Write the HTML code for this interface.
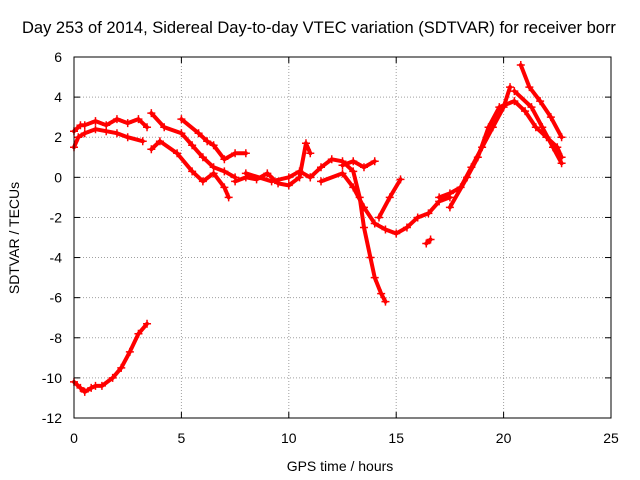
<!DOCTYPE html>
<html><head><meta charset="utf-8"><style>
body{margin:0;background:#fff}
svg{display:block;font-family:"Liberation Sans",sans-serif}
</style></head><body>
<svg id="chart" width="640" height="480">
<rect width="640" height="480" fill="#fff"/>
<text x="22" y="33" font-size="16.5">Day 253 of 2014, Sidereal Day-to-day VTEC variation (SDTVAR) for receiver borr</text>
<g id="grid"></g>
<g id="ticks"></g>
<g id="series"></g>
<rect x="74" y="57" width="537" height="361" fill="none" stroke="#000" stroke-width="1"/>
<text x="340" y="471" font-size="14" text-anchor="middle">GPS time / hours</text>
<text transform="translate(19,238) rotate(-90)" font-size="14" text-anchor="middle">SDTVAR / TECUs</text>
</svg>
<script>
const xTicks=[0,5,10,15,20,25];
const yTicks=[6,4,2,0,-2,-4,-6,-8,-10,-12];
const s1x=[0,0.3,0.5,0.8,1,1.3,1.8,2.2,2.6,3.0,3.4];
const s1y=[-10.2,-10.5,-10.7,-10.5,-10.4,-10.4,-10.0,-9.5,-8.7,-7.8,-7.3];
const s2x=[0,0.3,0.5,1,1.5,2,2.5,3,3.4];
const s2y=[2.3,2.6,2.6,2.8,2.6,2.9,2.7,2.9,2.5];
const s3x=[0,0.2,0.5,1,1.5,2,2.5,3.2];
const s3y=[1.5,2.0,2.2,2.4,2.3,2.2,2.0,1.8];
const s4x=[3.6,4.2,5,5.5,6,6.5,7,7.5];
const s4y=[3.2,2.5,2.2,1.6,1.0,0.5,0.3,0.0];
const s5x=[5,5.8,6.2,6.5,7.0,7.5,8];
const s5y=[2.9,2.2,1.8,1.6,0.9,1.2,1.2];
const s6x=[3.6,4,4.8,5.5,6,6.5,7,7.2];
const s6y=[1.4,1.8,1.2,0.3,-0.2,0.2,-0.5,-1.0];
const s7x=[7.5,8,8.5,9,9.5,10,10.5,10.8,11];
const s7y=[-0.2,0.0,-0.1,0.2,-0.3,-0.4,0.0,1.7,1.2];
const s8x=[8,9.2,10,10.5,11];
const s8y=[0.2,-0.2,0.0,0.3,0.0];
const s9x=[11,11.5,12,12.5,13,13.3,13.5,13.8,14,14.3,14.5];
const s9y=[0,0.5,0.9,0.8,0.3,-1.0,-2.5,-4.0,-5.0,-5.8,-6.2];
const s10x=[11.5,12.5,13,13.5,14,14.5,15,15.5,16,16.5,17,17.5];
const s10y=[-0.2,0.2,-0.5,-1.5,-2.3,-2.6,-2.8,-2.5,-2.0,-1.8,-1.2,-1.0];
const s11x=[12.5,13,13.5,14.0];
const s11y=[0.6,0.8,0.5,0.8];
const s12x=[14.2,14.7,15.2];
const s12y=[-2.0,-1.0,-0.1];
const s13x=[16.4,16.6];
const s13y=[-3.3,-3.1];
const s14x=[17,17.5,18,18.5,19,19.5,20,20.3];
const s14y=[-1.0,-0.8,-0.5,0.5,1.5,2.5,3.5,4.5];
const s15x=[17.5,18.3,18.8,19.3,19.8,20.5,21,21.5,22,22.5,22.7];
const s15y=[-1.5,0.0,1.0,2.5,3.5,3.8,3.3,2.5,2.0,1.5,1.0];
const s16x=[20.8,21.2,21.7,22.2,22.7];
const s16y=[5.6,4.5,3.8,3.0,2.0];
const s17x=[20.5,21.3,21.8,22.3,22.7];
const s17y=[4.3,3.5,2.5,1.5,0.7];
const seriesX=[s1x,s2x,s3x,s4x,s5x,s6x,s7x,s8x,s9x,s10x,s11x,s12x,s13x,s14x,s15x,s16x,s17x];
const seriesY=[s1y,s2y,s3y,s4y,s5y,s6y,s7y,s8y,s9y,s10y,s11y,s12y,s13y,s14y,s15y,s16y,s17y];

const NS="http://www.w3.org/2000/svg";
const X0=74,X1=611,Y0=57,Y1=418;
function sx(v){return X0+(v-0)/(25-0)*(X1-X0);}
function sy(v){return Y0+(6-v)/(6-(-12))*(Y1-Y0);}
function mk(t,a,p){const e=document.createElementNS(NS,t);for(const k in a)e.setAttribute(k,a[k]);p.appendChild(e);return e;}
const grid=document.getElementById('grid'),ticks=document.getElementById('ticks'),ser=document.getElementById('series');
xTicks.forEach(v=>{
  const x=sx(v);
  if(v>0&&v<25){const l=mk('line',{x1:x,x2:x,y1:Y0,y2:Y1,stroke:'#a0a0a0','stroke-dasharray':'1,2'},grid);
  
  }
  mk('line',{x1:x,x2:x,y1:Y1,y2:Y1-6,stroke:'#000'},ticks);
  mk('line',{x1:x,x2:x,y1:Y0,y2:Y0+6,stroke:'#000'},ticks);
  const t=mk('text',{x:x,y:443,'font-size':'14','text-anchor':'middle'},ticks);t.textContent=v;
  
  
});
yTicks.forEach(v=>{
  const y=sy(v);
  if(v<6&&v>-12){const l=mk('line',{x1:X0,x2:X1,y1:y,y2:y,stroke:'#a0a0a0','stroke-dasharray':'1,2'},grid);
  
  }
  mk('line',{x1:X0,x2:X0+6,y1:y,y2:y,stroke:'#000'},ticks);
  mk('line',{x1:X1,x2:X1-6,y1:y,y2:y,stroke:'#000'},ticks);
  const t=mk('text',{x:62,y:y+5,'font-size':'14','text-anchor':'end'},ticks);t.textContent=v;
  
  
});
seriesX.forEach((xs,i)=>{
  const ys=seriesY[i];
  const pts=xs.map((x,j)=>sx(x)+','+sy(ys[j])).join(' ');
  const pl=mk('polyline',{points:pts,fill:'none',stroke:'#f00','stroke-width':'4','stroke-linejoin':'round','stroke-linecap':'round'},ser);
  
  
  xs.forEach((x,j)=>{
    const px=sx(x),py=sy(ys[j]);
    const p=mk('path',{d:`M${px-4},${py}h8M${px},${py-4}v8`,stroke:'#f00','stroke-width':'1.5'},ser);
    
    
  });
});
</script>
</body></html>
